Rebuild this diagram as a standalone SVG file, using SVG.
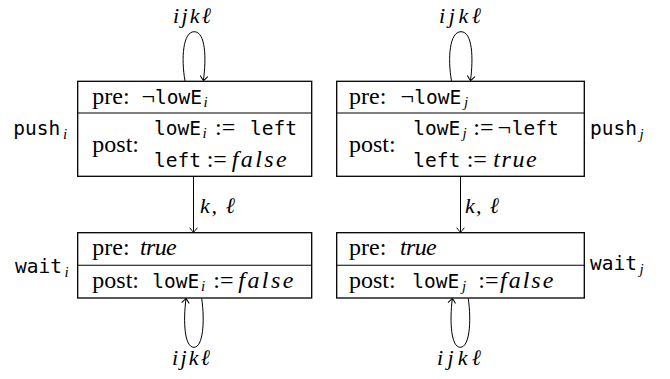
<svg xmlns="http://www.w3.org/2000/svg" width="670" height="379" viewBox="0 0 670 379">
  <defs>
    <style>
      text { font-size: 24px; fill: #000; }
      .tt { font-size: 19.5px; }
      .it { font-style: italic; }
      .sub { font-style: italic; font-size: 15px; }
      .lbl { font-style: italic; font-size: 22px; }
      .box { fill: #fff; stroke: #000; stroke-width: 1.3; }
      .div { stroke: #000; stroke-width: 1.1; }
      .edge { fill: none; stroke: #000; stroke-width: 1; }
    </style>
    <marker id="to" viewBox="-6 -5 8 10" markerWidth="8" markerHeight="10" refX="0" refY="0" orient="auto" markerUnits="userSpaceOnUse">
      <path d="M -4.5 -3.8 Q -1 -1.2 0 0 Q -1 1.2 -4.5 3.8" fill="none" stroke="#000" stroke-width="1"/>
    </marker>
  </defs>

  <g font-family="Liberation Serif">
  <!-- connectors -->
  <g id="edges">
    <!-- self loop on push_i -->
    <path class="edge" d="M 185 81 C 181 58, 183 31.7, 194.2 31.7 C 205.5 31.7, 206.5 58, 203.4 80.5" marker-end="url(#to)"/>
    <text class="lbl" x="192" y="23" text-anchor="middle" textLength="38" lengthAdjust="spacing">ijkℓ</text>
    <!-- self loop on push_j -->
    <path class="edge" d="M 451.5 81 C 447.5 58, 449.5 31.7, 461 31.7 C 472.5 31.7, 473.5 58, 470.5 80.5" marker-end="url(#to)"/>
    <text class="lbl" x="460" y="23" text-anchor="middle" textLength="42" lengthAdjust="spacing">ijkℓ</text>
    <!-- push_i <-> wait_i -->
    <path class="edge" d="M 193.5 177 L 193.5 232.2" marker-start="url(#to)" marker-end="url(#to)"/>
    <text class="lbl" x="200" y="213" textLength="35" lengthAdjust="spacing">k, ℓ</text>
    <!-- push_j <-> wait_j -->
    <path class="edge" d="M 460.5 177 L 460.5 232.2" marker-start="url(#to)" marker-end="url(#to)"/>
    <text class="lbl" x="465" y="213" textLength="34" lengthAdjust="spacing">k, ℓ</text>
    <!-- self loop on wait_i -->
    <path class="edge" d="M 201.7 298.5 C 205 322, 203 347.3, 193.9 347.3 C 184.5 347.3, 183 322, 186 298.6" marker-end="url(#to)"/>
    <text class="lbl" x="191" y="365" text-anchor="middle" textLength="38" lengthAdjust="spacing">ijkℓ</text>
    <!-- self loop on wait_j -->
    <path class="edge" d="M 468.3 298.5 C 471.5 322, 469.5 347.3, 460.3 347.3 C 451 347.3, 449.5 322, 452.3 298.6" marker-end="url(#to)"/>
    <text class="lbl" x="459" y="365" text-anchor="middle" textLength="44" lengthAdjust="spacing">ijkℓ</text>
  </g>

  <!-- push_i -->
  <g id="push_i">
    <rect class="box" x="77.7" y="81.3" width="234" height="95"/>
    <line class="div" x1="77.7" y1="113" x2="311.7" y2="113"/>
    <text x="92.3" y="104">pre:</text>
    <text x="141.5" y="104">¬</text>
    <text class="tt" font-family="DejaVu Sans Mono" x="155" y="104">lowE</text>
    <text class="sub" x="203.5" y="107">i</text>
    <text x="92.3" y="152">post:</text>
    <text class="tt" font-family="DejaVu Sans Mono" x="154" y="134.7">lowE</text>
    <text class="sub" x="202.5" y="137.7">i</text>
    <text x="215" y="134.7">:=</text>
    <text class="tt" font-family="DejaVu Sans Mono" x="250" y="134.7">left</text>
    <text class="tt" font-family="DejaVu Sans Mono" x="154" y="167.3">left</text>
    <text x="206.7" y="167.3">:=</text>
    <text class="it" x="231.7" y="167.3" textLength="55" lengthAdjust="spacing">false</text>
    <text class="tt" font-family="DejaVu Sans Mono" x="13.3" y="135">push</text>
    <text class="sub" x="63" y="138.5">i</text>
  </g>

  <!-- wait_i -->
  <g id="wait_i">
    <rect class="box" x="77.7" y="232.7" width="234" height="65.3"/>
    <line class="div" x1="77.7" y1="265.3" x2="311.7" y2="265.3"/>
    <text x="92.3" y="254.7">pre:</text>
    <text class="it" x="140" y="254.7" textLength="36.7" lengthAdjust="spacing">true</text>
    <text x="92.3" y="288">post:</text>
    <text class="tt" font-family="DejaVu Sans Mono" x="152.3" y="288">lowE</text>
    <text class="sub" x="201" y="291">i</text>
    <text x="213.3" y="288">:=</text>
    <text class="it" x="238.3" y="288" textLength="55" lengthAdjust="spacing">false</text>
    <text class="tt" font-family="DejaVu Sans Mono" x="15" y="273">wait</text>
    <text class="sub" x="64.5" y="276.5">i</text>
  </g>

  <!-- push_j -->
  <g id="push_j">
    <rect class="box" x="336.7" y="81.3" width="247.6" height="95"/>
    <line class="div" x1="336.7" y1="113" x2="584.3" y2="113"/>
    <text x="349" y="104">pre:</text>
    <text x="400.5" y="104">¬</text>
    <text class="tt" font-family="DejaVu Sans Mono" x="414.3" y="104">lowE</text>
    <text class="sub" x="464" y="107">j</text>
    <text x="349" y="152">post:</text>
    <text class="tt" font-family="DejaVu Sans Mono" x="413.3" y="134.7">lowE</text>
    <text class="sub" x="462.5" y="137.7">j</text>
    <text x="473.3" y="134.7">:=</text>
    <text x="497.5" y="134.7">¬</text>
    <text class="tt" font-family="DejaVu Sans Mono" x="511.7" y="134.7">left</text>
    <text class="tt" font-family="DejaVu Sans Mono" x="413.3" y="167.3">left</text>
    <text x="466.7" y="167.3">:=</text>
    <text class="it" x="493.3" y="167.3" textLength="43.4" lengthAdjust="spacing">true</text>
    <text class="tt" font-family="DejaVu Sans Mono" x="590" y="135">push</text>
    <text class="sub" x="639.5" y="138.5">j</text>
  </g>

  <!-- wait_j -->
  <g id="wait_j">
    <rect class="box" x="336.7" y="232.7" width="247.6" height="65.3"/>
    <line class="div" x1="336.7" y1="265.3" x2="584.3" y2="265.3"/>
    <text x="349" y="254.7">pre:</text>
    <text class="it" x="400" y="254.7" textLength="36.7" lengthAdjust="spacing">true</text>
    <text x="349" y="288">post:</text>
    <text class="tt" font-family="DejaVu Sans Mono" x="412.3" y="288">lowE</text>
    <text class="sub" x="462" y="291">j</text>
    <text x="478.3" y="288">:=</text>
    <text class="it" x="500" y="288" textLength="53.3" lengthAdjust="spacing">false</text>
    <text class="tt" font-family="DejaVu Sans Mono" x="590" y="270">wait</text>
    <text class="sub" x="639.5" y="273.5">j</text>
  </g>
  </g>
</svg>
